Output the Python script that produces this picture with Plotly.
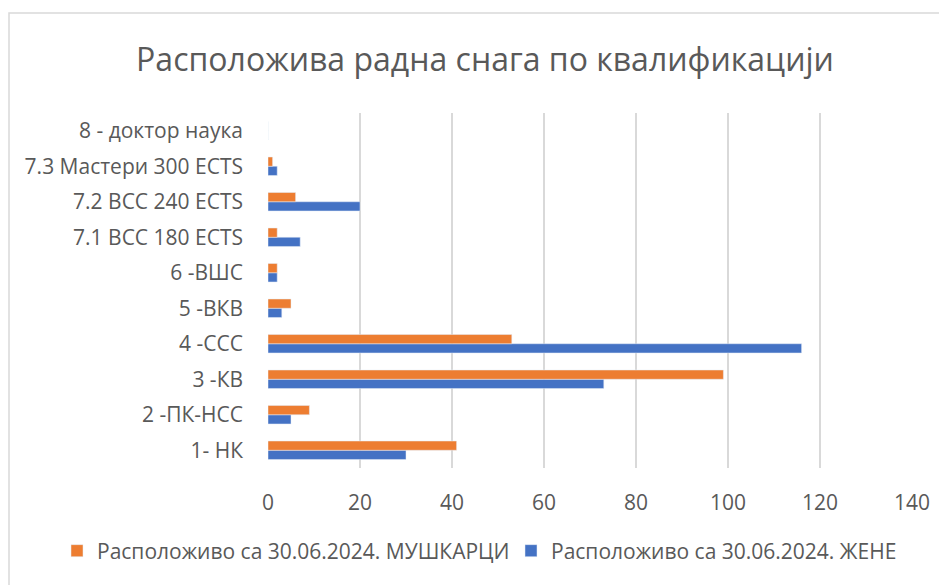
import plotly.graph_objects as go

categories = ["1- НК", "2 -ПК-НСС", "3 -КВ", "4 -ССС", "5 -ВКВ", "6 -ВШС",
              "7.1 ВСС 180 ECTS", "7.2 ВСС 240 ECTS", "7.3 Мастери 300 ECTS", "8 - доктор наука"]
men = [41, 9, 99, 53, 5, 2, 2, 6, 1, 0]
women = [30, 5, 73, 116, 3, 2, 7, 20, 2, 0]
name_men = "Расположиво са 30.06.2024. МУШКАРЦИ"
name_women = "Расположиво са 30.06.2024. ЖЕНЕ"
x_ticks = [0, 20, 40, 60, 80, 100, 120, 140]

FONT = "Open Sans"
GRAY = "#595959"

fig = go.Figure()
fig.add_trace(go.Bar(y=categories, x=women, name=name_women, orientation="h",
                     marker=dict(color="#4472C4")))
fig.add_trace(go.Bar(y=categories, x=men, name=name_men, orientation="h",
                     marker=dict(color="#ED7D31")))

# page offset of the figure inside the browser body
O = 8
W, H = 947, 585
# plot area in page pixels
PX0, PX1, PY0, PY1 = 268, 912, 113, 468
L, T = PX0 - O, PY0 - O
R, B = W - (PX1 - O), H - (PY1 - O)
pw, ph = W - L - R, H - T - B


def px_x(x):
    return (x - O - L) / pw


def px_y(y):
    return (H - B - (y - O)) / ph


leg_font = dict(size=21, color=GRAY, family=FONT)

fig.update_layout(
    width=W, height=H,
    margin=dict(l=L, r=R, t=T, b=B, autoexpand=False),
    paper_bgcolor="white", plot_bgcolor="white",
    barmode="group", bargap=0.48, bargroupgap=0,
    font=dict(family=FONT, color=GRAY, size=21),
    title=dict(text="Расположива радна снага по квалификацији",
               x=(485 - O) / W, xanchor="center", y=1 - (60 - O) / H, yanchor="middle",
               font=dict(size=32, color=GRAY, family=FONT)),
    xaxis=dict(range=[0, 140], tickvals=x_ticks, showgrid=True,
               gridcolor="#d9d9d9", gridwidth=1.5, zeroline=False,
               showline=False, ticks="", ticklabelstandoff=20,
               tickfont=dict(size=21, color=GRAY)),
    yaxis=dict(showgrid=False, zeroline=False, showline=False, ticks="",
               ticklabelstandoff=24, tickfont=dict(size=21, color=GRAY),
               categoryorder="array", categoryarray=categories),
    legend=dict(orientation="h", x=px_x(97 - 40), xanchor="left",
                y=px_y(551), yanchor="middle", font=leg_font,
                traceorder="reversed", entrywidth=409, entrywidthmode="pixels",
                bgcolor="rgba(0,0,0,0)"),
    shapes=[dict(type="rect", xref="paper", yref="paper",
                 x0=px_x(O + 1), x1=px_x(W + 40),
                 y0=px_y(H + 40), y1=px_y(13),
                 line=dict(color="#d9d9d9", width=1.5), layer="above")],
)

fig.write_html("out.html")
